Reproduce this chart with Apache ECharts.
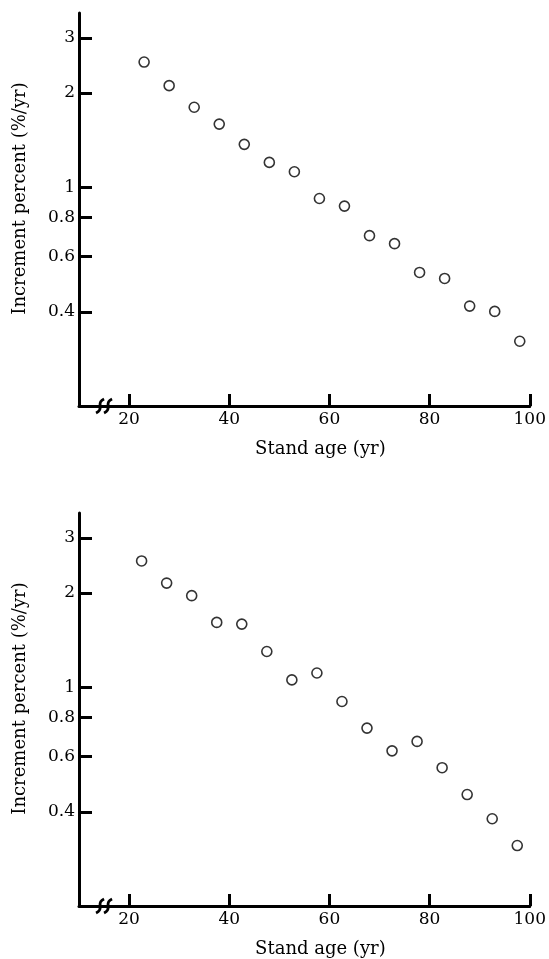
<!DOCTYPE html>
<html>
<head>
<meta charset="UTF-8">
<title>Increment percent vs stand age</title>
<script src="https://cdn.jsdelivr.net/npm/echarts@6/dist/echarts.min.js"></script>
<style>
  html, body { margin: 0; padding: 0; background: #fff; }
  #chart { width: 549px; height: 959px; }
</style>
</head>
<body>
<div id="chart"></div>
<script>
// stand age (yr) and increment percent (%/yr)
const ageTop = [23, 28, 33, 38, 43, 48, 53, 58, 63, 68, 73, 78, 83, 88, 93, 98];
const incTop = [2.51, 2.11, 1.80, 1.59, 1.37, 1.20, 1.12, 0.92, 0.87, 0.70, 0.66, 0.534, 0.511, 0.417, 0.401, 0.322];

const ageBottom = [22.5, 27.5, 32.5, 37.5, 42.5, 47.5, 52.5, 57.5, 62.5, 67.5, 72.5, 77.5, 82.5, 87.5, 92.5, 97.5];
const incBottom = [2.53, 2.15, 1.96, 1.61, 1.59, 1.30, 1.055, 1.11, 0.90, 0.74, 0.626, 0.671, 0.553, 0.454, 0.380, 0.312];

const xTicks = [20, 40, 60, 80, 100];
const yTicks = [0.4, 0.6, 0.8, 1, 2, 3];

const font = '"DejaVu Serif", "Liberation Serif", serif';

function xAxis(idx) {
    return {
        type: 'value',
        gridIndex: idx,
        min: 10,
        max: 100,
        name: 'Stand age (yr)',
        nameLocation: 'middle',
        nameGap: 34,
        nameTextStyle: { fontFamily: font, fontSize: 18, color: '#000', padding: [0, 0, 0, 32] },
        axisLine: { lineStyle: { color: '#000', width: 3 } },
        axisTick: { inside: true, length: 12, customValues: xTicks, lineStyle: { color: '#000', width: 3 } },
        axisLabel: { customValues: xTicks, fontFamily: font, fontSize: 17, color: '#000', margin: 5 },
        splitLine: { show: false }
    };
}

function yAxis(idx) {
    return {
        type: 'log',
        logBase: 10,
        gridIndex: idx,
        min: 0.2,
        max: 3.6,
        name: 'Increment percent (%/yr)',
        nameLocation: 'middle',
        nameGap: 50,
        nameRotate: 90,
        nameTextStyle: { fontFamily: font, fontSize: 18, color: '#000', padding: [0, 0, 0, 22] },
        axisLine: { lineStyle: { color: '#000', width: 3 } },
        axisTick: { inside: true, length: 13, customValues: yTicks, lineStyle: { color: '#000', width: 3 } },
        axisLabel: {
            customValues: yTicks, fontFamily: font, fontSize: 17, color: '#000', margin: 4,
            formatter: function (v) { return String(Math.round(v * 10) / 10); }
        },
        splitLine: { show: false },
        minorTick: { show: false }
    };
}

function scatter(idx, xs, ys) {
    return {
        type: 'scatter',
        xAxisIndex: idx,
        yAxisIndex: idx,
        data: xs.map(function (x, i) { return [x, ys[i]]; }),
        symbol: 'circle',
        symbolSize: 10,
        itemStyle: { color: '#fff', borderColor: '#000', borderWidth: 1.6 },
        emphasis: { disabled: true },
        z: 3
    };
}

const chart = echarts.init(document.getElementById('chart'));
chart.setOption({
    animation: false,
    backgroundColor: '#fff',
    grid: [
        { left: 79, right: 16, top: 13, height: 393 },
        { left: 79, right: 15, top: 513, height: 394 }
    ],
    xAxis: [xAxis(0), xAxis(1)],
    yAxis: [yAxis(0), yAxis(1)],
    series: [scatter(0, ageTop, incTop), scatter(1, ageBottom, incBottom)]
});

// axis break mark on both x axes
function breakMark(idx) {
    const p = chart.convertToPixel({ gridIndex: idx }, [15, 0.2]);
    const curve = function (dx) {
        return {
            type: 'bezierCurve',
            shape: {
                x1: p[0] + dx - 4, y1: p[1] + 7,
                x2: p[0] + dx + 4, y2: p[1] - 7,
                cpx1: p[0] + dx + 5, cpy1: p[1] + 3,
                cpx2: p[0] + dx - 5, cpy2: p[1] - 3
            },
            style: { stroke: '#000', lineWidth: 3, fill: null },
            z: 10
        };
    };
    return [curve(-4), curve(4)];
}
chart.setOption({ graphic: breakMark(0).concat(breakMark(1)) });
</script>
</body>
</html>
